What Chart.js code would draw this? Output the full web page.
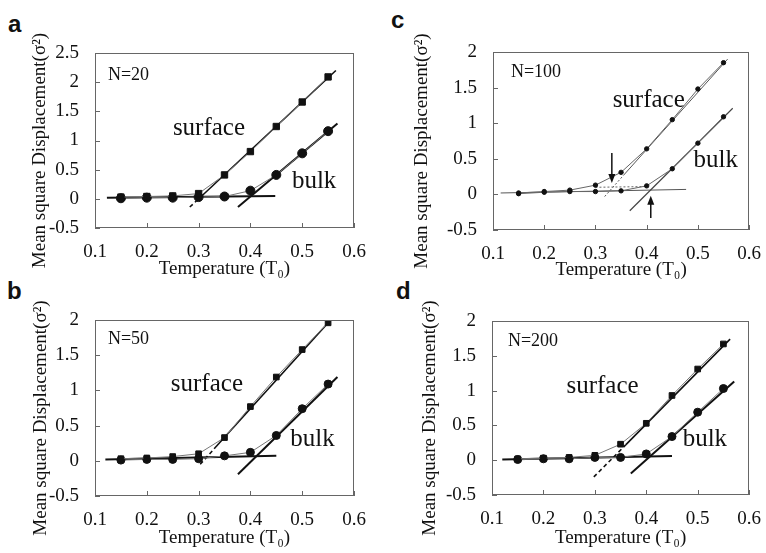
<!DOCTYPE html>
<html>
<head>
<meta charset="utf-8">
<script src="https://cdn.jsdelivr.net/npm/chart.js@4.4.1/dist/chart.umd.min.js"></script>
<style>
  body { margin: 0; background: #fff; width: 766px; height: 553px; position: relative; overflow: hidden; }
  canvas { position: absolute; }
  .tag { position: absolute; font: bold 24px "Liberation Sans", Arial, sans-serif; line-height: 24px; color: #111; }
</style>
</head>
<body>
<span class="tag" style="left:8px;top:12px">a</span>
<span class="tag" style="left:391px;top:8px">c</span>
<span class="tag" style="left:7px;top:279px">b</span>
<span class="tag" style="left:396px;top:279px">d</span>
<canvas id="chartA" width="383" height="285" style="left:0;top:0"></canvas>
<canvas id="chartC" width="383" height="285" style="left:383px;top:0"></canvas>
<canvas id="chartB" width="383" height="285" style="left:0;top:273px"></canvas>
<canvas id="chartD" width="383" height="285" style="left:383px;top:273px"></canvas>
<script>
// temperatures (T0) shared by all panels
const temps = [0.15, 0.2, 0.25, 0.3, 0.35, 0.4, 0.45, 0.5, 0.55];
const xTicks = [0.1, 0.2, 0.3, 0.4, 0.5, 0.6];
const yTicksA = [-0.5, 0, 0.5, 1, 1.5, 2, 2.5];
const yTicks = [-0.5, 0, 0.5, 1, 1.5, 2];

// N=20
const surfaceA = [0.03, 0.04, 0.05, 0.09, 0.41, 0.81, 1.24, 1.66, 2.09];
const bulkA = [0.01, 0.02, 0.02, 0.03, 0.04, 0.14, 0.41, 0.78, 1.16];
const surfFitA = [[0.283, -0.14], [0.305, 0.04], [0.565, 2.2]];
const bulkFitA = [[0.376, -0.14], [0.568, 1.29]];
const baseA = [[0.123, 0.02], [0.448, 0.05]];

// N=50
const surfaceB = [0.03, 0.04, 0.06, 0.1, 0.33, 0.77, 1.19, 1.58, 1.96];
const bulkB = [0.01, 0.02, 0.02, 0.03, 0.07, 0.12, 0.36, 0.74, 1.09];
const surfFitB = [[0.303, -0.05], [0.33, 0.17], [0.555, 2.0]];
const bulkFitB = [[0.376, -0.19], [0.568, 1.19]];
const baseB = [[0.12, 0.02], [0.45, 0.07]];

// N=100
const surfaceC = [0.02, 0.04, 0.06, 0.13, 0.31, 0.64, 1.05, 1.48, 1.85];
const bulkC = [0.01, 0.03, 0.04, 0.04, 0.05, 0.12, 0.36, 0.72, 1.09];
const surfFitC = [[0.318, -0.03], [0.355, 0.27], [0.558, 1.9]];
const bulkFitC = [[0.367, -0.23], [0.568, 1.21]];
const baseC = [[0.115, 0.02], [0.477, 0.07]];
const dottedC = [[0.3, 0.1], [0.4, 0.11]];
const arrowsC = [[0.332, 0.58, 0.16], [0.408, -0.33, -0.02]];

// N=200
const surfaceD = [0.02, 0.03, 0.04, 0.07, 0.23, 0.53, 0.93, 1.31, 1.67];
const bulkD = [0.01, 0.02, 0.02, 0.04, 0.04, 0.09, 0.34, 0.69, 1.03];
const surfFitD = [[0.298, -0.24], [0.36, 0.22], [0.563, 1.74]];
const bulkFitD = [[0.37, -0.19], [0.571, 1.13]];
const baseD = [[0.12, 0.01], [0.45, 0.06]];

const serif = '"Liberation Serif", "Times New Roman", serif';
const yTitle = 'Mean square Displacement(σ²)';

const toXY = (pairs) => pairs.map(([x, y]) => ({ x, y }));
const withTemps = (vals) => vals.map((y, i) => ({ x: temps[i], y }));

// frame, inward ticks, y title, in-plot labels and arrows
const decor = {
  id: 'decor',
  afterDraw(chart, args, opts) {
    const { ctx, chartArea: a, scales: { x, y } } = chart;
    ctx.save();
    ctx.strokeStyle = '#666';
    ctx.lineWidth = 1;
    ctx.strokeRect(Math.round(a.left) + 0.5, Math.round(a.top) + 0.5, Math.round(a.width) - 1, Math.round(a.height) - 1);
    ctx.beginPath();
    x.ticks.forEach((t) => {
      const px = Math.round(x.getPixelForValue(t.value)) + 0.5;
      ctx.moveTo(px, a.bottom);
      ctx.lineTo(px, a.bottom - 5);
    });
    y.ticks.forEach((t) => {
      const py = Math.round(y.getPixelForValue(t.value)) + 0.5;
      ctx.moveTo(a.left, py);
      ctx.lineTo(a.left + 5, py);
    });
    ctx.stroke();

    ctx.fillStyle = '#111';
    ctx.textBaseline = 'middle';

    // rotated y title, sitting slightly below the plot centre as in the figure
    ctx.save();
    ctx.translate(opts.titleX, (a.top + a.bottom) / 2 + 10);
    ctx.rotate(-Math.PI / 2);
    ctx.font = '19px ' + serif;
    ctx.textAlign = 'center';
    ctx.fillText(yTitle, 0, 0);
    ctx.restore();

    (opts.notes || []).forEach((n) => {
      ctx.font = n.size + 'px ' + serif;
      ctx.textAlign = n.align;
      ctx.fillText(n.text, x.getPixelForValue(n.x), y.getPixelForValue(n.y));
    });

    (opts.arrows || []).forEach(([ax, y0, y1]) => {
      const px = x.getPixelForValue(ax);
      const p0 = y.getPixelForValue(y0);
      const p1 = y.getPixelForValue(y1);
      const dir = p1 > p0 ? 1 : -1;
      ctx.strokeStyle = '#111';
      ctx.lineWidth = 1.5;
      ctx.beginPath();
      ctx.moveTo(px, p0);
      ctx.lineTo(px, p1 - dir * 6);
      ctx.stroke();
      ctx.beginPath();
      ctx.moveTo(px, p1);
      ctx.lineTo(px - 3.5, p1 - dir * 9);
      ctx.lineTo(px + 3.5, p1 - dir * 9);
      ctx.closePath();
      ctx.fill();
    });
    ctx.restore();
  },
};

function lineSet(pairs, color, width, dashFirst) {
  return {
    data: toXY(pairs),
    showLine: true,
    borderColor: color,
    borderWidth: width,
    pointRadius: 0,
    segment: dashFirst ? { borderDash: (c) => (c.p0DataIndex === 0 ? dashFirst : undefined) } : {},
  };
}

function pointSet(vals, style, radius, lineColor) {
  return {
    data: withTemps(vals),
    showLine: true,
    borderColor: lineColor,
    borderWidth: 1,
    pointStyle: style,
    pointRadius: radius,
    pointBackgroundColor: '#111',
    pointBorderColor: '#111',
    pointBorderWidth: 1,
  };
}

function makePanel(id, lay, datasets, yMax, yTickList, decorOpts) {
  const H = 285;
  const [cx, cy] = lay.canvas;
  const [l, , , b] = lay.box;
  const half = 19 * 1.2 / 2;
  const padL = 20;
  const yW = l - cx - padL;
  const padB = cy + H - half - lay.xTitleY;
  const xH = cy + H - padB - b;

  new Chart(document.getElementById(id), {
    type: 'scatter',
    data: { datasets },
    plugins: [decor],
    options: {
      responsive: false,
      animation: false,
      layout: {
        padding: { left: padL, right: cx + 383 - lay.box[2], top: lay.box[1] - cy, bottom: padB },
      },
      plugins: {
        legend: { display: false },
        tooltip: { enabled: false },
        decor: { ...decorOpts, titleX: lay.yTitleX - cx },
      },
      scales: {
        x: {
          type: 'linear',
          min: 0.1,
          max: 0.6,
          afterBuildTicks: (s) => { s.ticks = xTicks.map((v) => ({ value: v })); },
          afterFit: (s) => { s.height = xH; },
          grid: { display: false },
          border: { display: false },
          ticks: { color: '#111', font: { family: serif, size: 19 }, padding: 5, callback: (v) => String(v), maxRotation: 0 },
          title: { display: true, text: 'Temperature (T₀)', color: '#111', font: { family: serif, size: 19 }, padding: 0 },
        },
        y: {
          type: 'linear',
          min: -0.5,
          max: yMax,
          afterBuildTicks: (s) => { s.ticks = yTickList.map((v) => ({ value: v })); },
          afterFit: (s) => { s.width = yW; },
          grid: { display: false },
          border: { display: false },
          ticks: { color: '#111', font: { family: serif, size: 19 }, padding: 8, callback: (v) => String(v) },
        },
      },
    },
  });
}

makePanel('chartA',
  { canvas: [0, 0], box: [95, 53, 354, 228], yTitleX: 40, xTitleY: 269 },
  [
    pointSet(surfaceA, 'rect', 4.5, '#777'),
    pointSet(bulkA, 'circle', 4.5, '#777'),
    lineSet(surfFitA, '#111', 1.6, [4, 3]),
    lineSet(bulkFitA, '#111', 2),
    lineSet(baseA, '#111', 2),
  ],
  2.5, yTicksA,
  { notes: [
    { text: 'N=20', x: 0.125, y: 2.12, size: 18, align: 'left' },
    { text: 'surface', x: 0.32, y: 1.21, size: 25, align: 'center' },
    { text: 'bulk', x: 0.523, y: 0.29, size: 25, align: 'center' },
  ] });

makePanel('chartB',
  { canvas: [0, 273], box: [95, 320, 354, 496], yTitleX: 41, xTitleY: 538 },
  [
    pointSet(surfaceB, 'rect', 4, '#777'),
    pointSet(bulkB, 'circle', 4, '#777'),
    lineSet(surfFitB, '#111', 1.6, [4, 3]),
    lineSet(bulkFitB, '#111', 2),
    lineSet(baseB, '#111', 2),
  ],
  2, yTicks,
  { notes: [
    { text: 'N=50', x: 0.125, y: 1.72, size: 18, align: 'left' },
    { text: 'surface', x: 0.316, y: 1.08, size: 25, align: 'center' },
    { text: 'bulk', x: 0.52, y: 0.3, size: 25, align: 'center' },
  ] });

makePanel('chartC',
  { canvas: [383, 0], box: [493, 52, 751, 230], yTitleX: 422, xTitleY: 270 },
  [
    pointSet(surfaceC, 'circle', 2.2, '#666'),
    pointSet(bulkC, 'circle', 2.2, '#666'),
    lineSet(surfFitC, '#555', 1, [2, 2]),
    lineSet(bulkFitC, '#444', 1.2),
    lineSet(baseC, '#555', 1),
    lineSet(dottedC, '#666', 1, [2, 2]),
  ],
  2, yTicks,
  { notes: [
    { text: 'N=100', x: 0.135, y: 1.72, size: 18, align: 'left' },
    { text: 'surface', x: 0.404, y: 1.32, size: 25, align: 'center' },
    { text: 'bulk', x: 0.535, y: 0.48, size: 25, align: 'center' },
  ], arrows: arrowsC });

makePanel('chartD',
  { canvas: [383, 273], box: [492, 321, 751, 495], yTitleX: 430, xTitleY: 538 },
  [
    pointSet(surfaceD, 'rect', 4, '#777'),
    pointSet(bulkD, 'circle', 4, '#777'),
    lineSet(surfFitD, '#111', 1.6, [4, 3]),
    lineSet(bulkFitD, '#111', 2),
    lineSet(baseD, '#111', 2),
  ],
  2, yTicks,
  { notes: [
    { text: 'N=200', x: 0.131, y: 1.71, size: 18, align: 'left' },
    { text: 'surface', x: 0.315, y: 1.06, size: 25, align: 'center' },
    { text: 'bulk', x: 0.514, y: 0.3, size: 25, align: 'center' },
  ] });
</script>
</body>
</html>
